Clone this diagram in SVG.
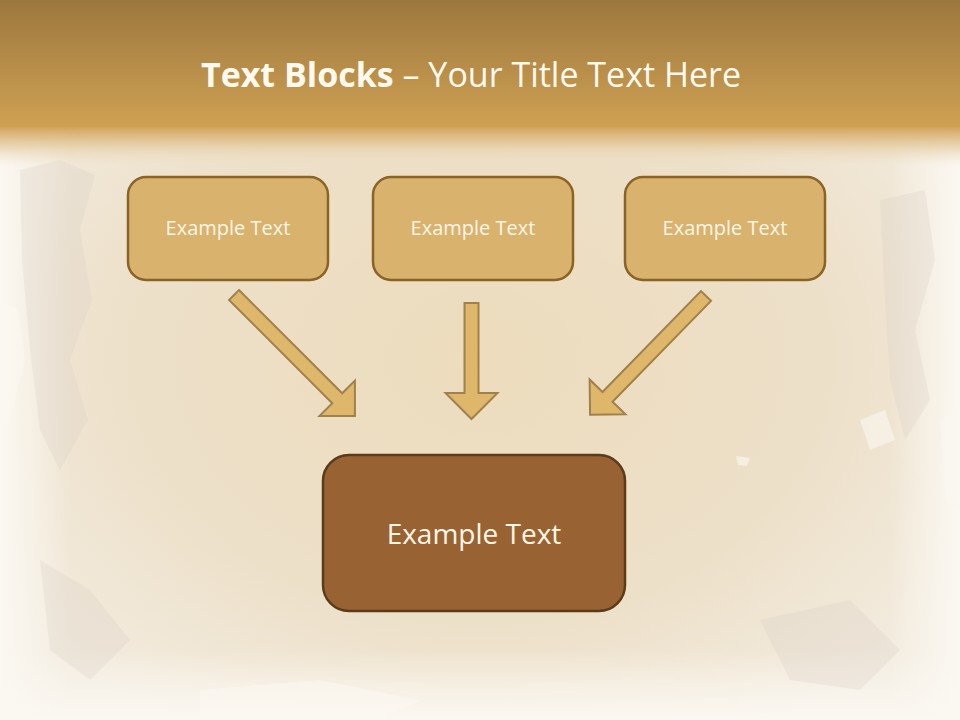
<svg xmlns="http://www.w3.org/2000/svg" width="960" height="720" viewBox="0 0 960 720">
<defs>
<linearGradient id="band" x1="0" y1="0" x2="0" y2="1">
<stop offset="0" stop-color="#9c773e"/>
<stop offset="1" stop-color="#cfa153"/>
</linearGradient>
<linearGradient id="fade" x1="0" y1="0" x2="0" y2="1">
<stop offset="0" stop-color="#d2a45a" stop-opacity="1"/>
<stop offset="0.5" stop-color="#e6cfa6" stop-opacity="0.8"/>
<stop offset="1" stop-color="#f0e4cf" stop-opacity="0"/>
</linearGradient>
<radialGradient id="paper" cx="0.5" cy="0.5" r="0.6">
<stop offset="0" stop-color="#eddcbd"/>
<stop offset="0.6" stop-color="#ede0c9"/>
<stop offset="1" stop-color="#f3ece0"/>
</radialGradient>
<linearGradient id="edgeL" x1="0" y1="0" x2="1" y2="0">
<stop offset="0" stop-color="#fbf8f2" stop-opacity="1"/>
<stop offset="1" stop-color="#fbf8f2" stop-opacity="0"/>
</linearGradient>
<linearGradient id="edgeR" x1="1" y1="0" x2="0" y2="0">
<stop offset="0" stop-color="#fbf8f2" stop-opacity="1"/>
<stop offset="1" stop-color="#fbf8f2" stop-opacity="0"/>
</linearGradient>
<linearGradient id="edgeB" x1="0" y1="1" x2="0" y2="0">
<stop offset="0" stop-color="#fbf8f2" stop-opacity="1"/>
<stop offset="1" stop-color="#fbf8f2" stop-opacity="0"/>
</linearGradient>
<style>
.box{fill:#d9b26d;stroke:#8a6426;stroke-width:2.5}
.main{fill:#996233;stroke:#5a3b1a;stroke-width:2.5}
.lbl{font-family:"Open Sans","Liberation Sans",sans-serif;fill:#fdf6e6;text-anchor:middle}
.arr{fill:#dfb76b;stroke:#a0804c;stroke-width:2;stroke-linejoin:miter}
</style>
</defs>
<g id="background">
<rect x="0" y="0" width="960" height="720" fill="url(#paper)"/>
<rect x="0" y="120" width="70" height="600" fill="url(#edgeL)"/>
<rect x="890" y="120" width="70" height="600" fill="url(#edgeR)"/>
<rect x="0" y="650" width="960" height="70" fill="url(#edgeB)"/>
<g fill="#d9d2c6" opacity="0.3">
<path d="M20 170 L60 160 L95 175 L80 230 L92 300 L70 360 L88 420 L60 470 L40 430 L30 350 L22 260 Z"/>
<path d="M880 200 L925 190 L935 260 L915 330 L930 400 L905 440 L890 380 L885 300 Z"/>
<path d="M40 560 L90 590 L130 640 L90 680 L50 650 Z"/>
<path d="M760 620 L850 600 L900 650 L860 690 L790 680 Z"/>
</g>
<g fill="#fbf8f2" opacity="0.6">
<path d="M0 300 L18 310 L25 360 L10 420 L0 430 Z"/>
<path d="M940 420 L960 410 L960 520 L945 500 Z"/>
<path d="M860 420 L885 410 L895 440 L870 450 Z"/>
<path d="M736 456 L750 458 L747 466 L738 465 Z"/>
<path d="M200 690 L320 680 L420 700 L380 720 L200 720 Z"/>
</g>
<rect x="0" y="0" width="960" height="128" fill="url(#band)"/>
<rect x="0" y="127" width="960" height="40" fill="url(#fade)"/>
</g>
<g id="title">
<text x="471" y="87" text-anchor="middle" font-family="'Open Sans','Liberation Sans',sans-serif" font-size="34" fill="#fff9ee"><tspan font-weight="bold">Text Blocks</tspan> – Your Title Text Here</text>
</g>
<g id="box1">
<rect class="box" x="128" y="177" width="200" height="103" rx="18"/>
<text class="lbl" x="228" y="235" font-size="20">Example Text</text>
</g>
<g id="box2">
<rect class="box" x="373" y="177" width="200" height="103" rx="18"/>
<text class="lbl" x="473" y="235" font-size="20">Example Text</text>
</g>
<g id="box3">
<rect class="box" x="625" y="177" width="200" height="103" rx="18"/>
<text class="lbl" x="725" y="235" font-size="20">Example Text</text>
</g>
<g id="box4">
<rect class="main" x="323" y="455" width="302" height="156" rx="26"/>
<text class="lbl" x="474" y="544" font-size="28">Example Text</text>
</g>
<g id="connectors">
<polygon class="arr" transform="translate(234,295) rotate(45)" points="0,-7 146,-7 146,-25 171,0 146,25 146,7 0,7"/>
<polygon class="arr" transform="translate(471.5,303) rotate(90)" points="0,-7 90,-7 90,-26 116,0 90,26 90,7 0,7"/>
<polygon class="arr" transform="translate(706,296) rotate(134.3)" points="0,-7 141,-7 141,-25 166,0 141,25 141,7 0,7"/>
</g>
</svg>
